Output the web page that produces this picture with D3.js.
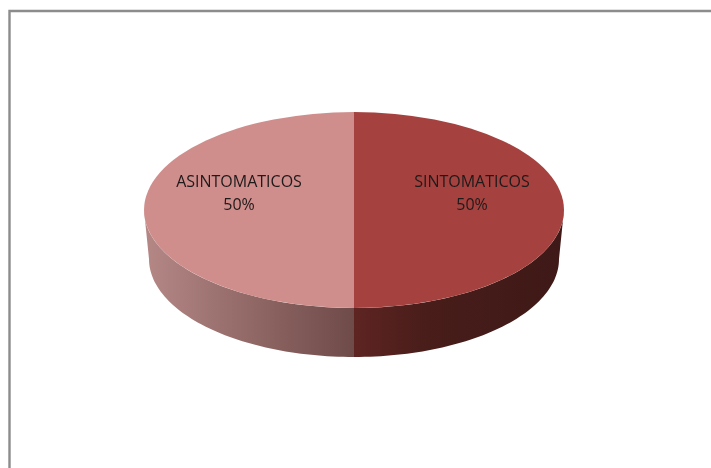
<!DOCTYPE html>
<html><head><meta charset="utf-8">
<script src="https://cdn.jsdelivr.net/npm/d3@7"></script>
<style>html,body{margin:0;padding:0;background:#fff}svg{display:block}</style>
</head><body>
<svg id="c" width="711" height="468"></svg>
<script>
const categories = ["SINTOMATICOS", "ASINTOMATICOS"];
const percentages = [50, 50];
const topColors = ["#A5423F", "#CF8E8C"];
const sideStops = [
  [["0%", "#5E2422"], ["35%", "#481D1A"], ["100%", "#3E1917"]],
  [["0%", "#6E4A48"], ["100%", "#B58886"]]
];
const labelOffsets = [[118, -23], [-115, -23]];

const width = 711, height = 468;
const cx = 354, cy = 210, rx = 210, ry = 98;
const lowerRx = 205, lowerCy = 259;

const svg = d3.select("#c");
svg.append("path").attr("d", `M9.5,468V11H711`).attr("fill", "none").attr("stroke", "#8c8c8c").attr("stroke-width", 2.4);

const slices = d3.pie().sort(null).startAngle(0).endAngle(2 * Math.PI)(percentages);
const defs = svg.append("defs");
sideStops.forEach((stops, i) => {
  const g = defs.append("linearGradient").attr("id", "side" + i).attr("gradientUnits", "userSpaceOnUse")
    .attr("x1", cx).attr("x2", i === 0 ? cx + rx : cx - rx).attr("y1", 0).attr("y2", 0);
  stops.forEach(s => g.append("stop").attr("offset", s[0]).attr("stop-color", s[1]));
});
defs.append("filter").attr("id", "soft").append("feGaussianBlur").attr("stdDeviation", 0.35);

// visible wall: lower half of the rim, theta measured from 12 o'clock clockwise
const wall = d3.area()
  .x0(t => cx + rx * Math.sin(t)).y0(t => cy - ry * Math.cos(t))
  .x1(t => cx + lowerRx * Math.sin(t)).y1(t => lowerCy - ry * Math.cos(t));
const frontLimit = [[Math.PI / 2, Math.PI], [Math.PI, 3 * Math.PI / 2]];
frontLimit.forEach((lim, i) => {
  const thetas = d3.range(0, 61).map(k => d3.scaleLinear([0, 60], lim)(k));
  svg.append("path").attr("d", wall(thetas)).attr("fill", `url(#side${i})`);
});

const arc = d3.arc().innerRadius(0).outerRadius(rx);
const pieTop = svg.append("g").attr("transform", `translate(${cx},${cy}) scale(1,${ry / rx})`);
pieTop.selectAll("path").data(slices).join("path").attr("d", arc).attr("fill", (d, i) => topColors[i]);

const labels = svg.append("g").attr("font-family", "'Open Sans', sans-serif").attr("font-size", 16)
  .attr("fill", "#1f1a1a").attr("text-anchor", "middle").attr("filter", "url(#soft)");
categories.forEach((c, i) => {
  const x = cx + labelOffsets[i][0], y = cy + labelOffsets[i][1];
  labels.append("text").attr("x", x).attr("y", y).text(c);
  labels.append("text").attr("x", x).attr("y", y + 23).text(percentages[i] + "%");
});
</script>
</body></html>
